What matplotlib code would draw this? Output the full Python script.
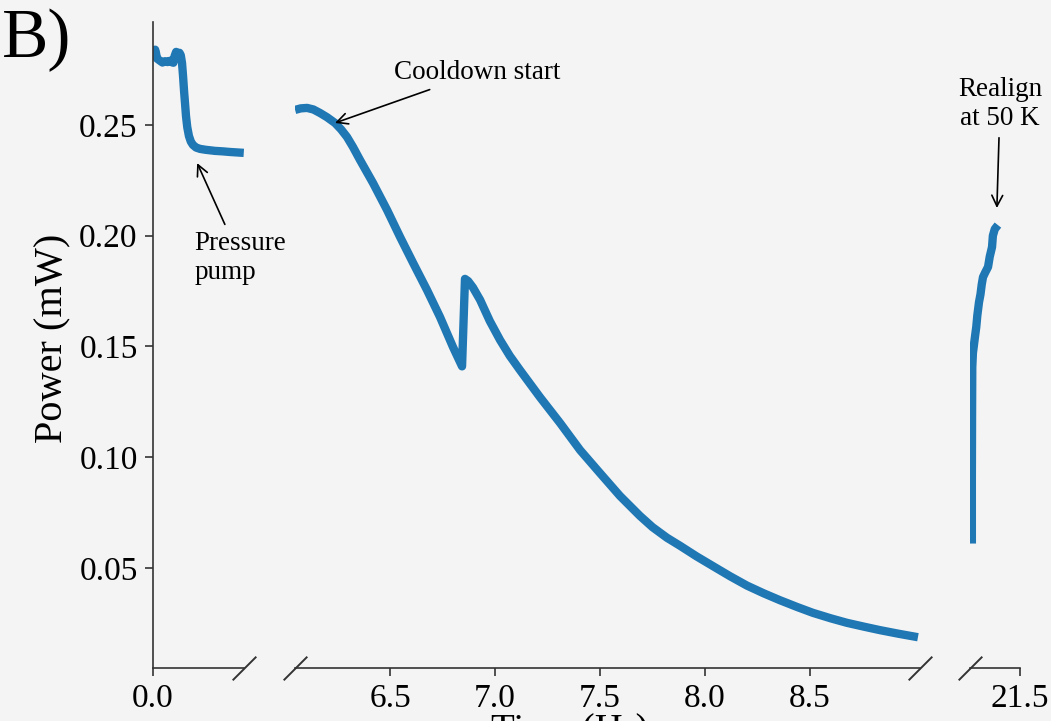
import numpy as np
import matplotlib.pyplot as plt

plt.rcParams['font.family'] = ['Liberation Serif', 'DejaVu Serif']

BG = '#f4f4f4'
BLUE = '#1f77b4'
SPINE = '#333333'

# before cooldown (time in hr, power in mW)
t_pre = [0.005, 0.010, 0.014, 0.019, 0.026, 0.033, 0.045, 0.057, 0.069, 0.081,
         0.090, 0.097, 0.103, 0.110, 0.118, 0.126, 0.132, 0.138, 0.143, 0.148,
         0.153, 0.157, 0.163, 0.171, 0.180, 0.190, 0.205, 0.224, 0.250, 0.295,
         0.330, 0.367, 0.400, 0.432]
p_pre = [0.2815, 0.2840, 0.2825, 0.2800, 0.2795, 0.2790, 0.2782, 0.2788, 0.2784, 0.2790,
         0.2783, 0.2781, 0.2812, 0.2830, 0.2818, 0.2826, 0.2815, 0.2780, 0.2720, 0.2650,
         0.2590, 0.2540, 0.2490, 0.2450, 0.2425, 0.2410, 0.2398, 0.2392, 0.2388, 0.2383,
         0.2381, 0.2378, 0.2376, 0.2374]

# cooldown
t_cool = [6.048, 6.075, 6.105, 6.135, 6.167, 6.200, 6.238, 6.267, 6.295, 6.324,
          6.357, 6.419, 6.486, 6.548, 6.610, 6.676, 6.738, 6.800, 6.843, 6.857,
          6.872, 6.895, 6.929, 6.975, 7.024, 7.070, 7.119, 7.214, 7.310, 7.405,
          7.500, 7.595, 7.690, 7.750, 7.819, 7.881, 7.960, 8.038, 8.120, 8.200,
          8.280, 8.357, 8.440, 8.514, 8.600, 8.676, 8.760, 8.833, 8.920, 9.014]
p_cool = [0.2568, 0.2575, 0.2577, 0.2570, 0.2554, 0.2535, 0.2509, 0.2480, 0.2446, 0.2400,
          0.2342, 0.2238, 0.2116, 0.1994, 0.1877, 0.1755, 0.1633, 0.1497, 0.1410, 0.1805,
          0.1795, 0.1766, 0.1710, 0.1615, 0.1529, 0.1458, 0.1393, 0.1271, 0.1154, 0.1032,
          0.0928, 0.0825, 0.0735, 0.0684, 0.0636, 0.0600, 0.0552, 0.0508, 0.0462, 0.0420,
          0.0385, 0.0354, 0.0323, 0.0297, 0.0272, 0.0252, 0.0234, 0.0219, 0.0203, 0.0187]

# realign at 50 K
t_real = [21.271, 21.271, 21.272, 21.273, 21.276, 21.280, 21.286, 21.292, 21.297, 21.305,
          21.312, 21.318, 21.324, 21.335, 21.348, 21.356, 21.367, 21.371, 21.380, 21.395]
p_real = [0.0610, 0.0900, 0.1200, 0.1407, 0.1470, 0.1500, 0.1545, 0.1588, 0.1640, 0.1700,
          0.1735, 0.1780, 0.1813, 0.1835, 0.1859, 0.1905, 0.1949, 0.2000, 0.2030, 0.2048]

yticks = [0.05, 0.10, 0.15, 0.20, 0.25]

fig = plt.figure(figsize=(10.51, 7.21), dpi=100, facecolor=BG)
bot, h = 0.0735, 0.896
ax1 = fig.add_axes([0.1456, bot, 0.0866, h], facecolor=BG)
ax2 = fig.add_axes([0.2807, bot, 0.5947, h], facecolor=BG, sharey=ax1)
ax3 = fig.add_axes([0.9229, bot, 0.0476, h], facecolor=BG, sharey=ax1)

for ax, t, p in [(ax1, t_pre, p_pre), (ax2, t_cool, p_cool), (ax3, t_real, p_real)]:
    ax.plot(t, p, color=BLUE, lw=6, solid_capstyle='butt', solid_joinstyle='round')
    for s in ['top', 'right', 'left']:
        ax.spines[s].set_visible(False)
    ax.spines['bottom'].set_color(SPINE)
    ax.spines['bottom'].set_linewidth(1.2)
    ax.tick_params(axis='x', labelsize=24, length=6, width=1.2, color=SPINE, pad=5)
    ax.tick_params(axis='y', left=False, labelleft=False)

ax1.spines['left'].set_visible(True)
ax1.spines['left'].set_color(SPINE)
ax1.spines['left'].set_linewidth(1.2)
ax1.tick_params(axis='y', left=True, labelleft=True, labelsize=24, length=6,
                width=1.2, color=SPINE, pad=5)
ax1.set_ylim(0.0048, 0.2965)
ax1.set_yticks(yticks)
ax1.set_yticklabels([f'{v:.2f}' for v in yticks])

ax1.set_xlim(0, 0.4333)
ax1.set_xticks([0.0])
ax1.set_xticklabels(['0.0'])
ax2.set_xlim(6.0476, 9.024)
ax2.set_xticks([6.5, 7.0, 7.5, 8.0, 8.5])
ax2.set_xticklabels(['6.5', '7.0', '7.5', '8.0', '8.5'])
ax3.set_xlim(21.262, 21.5)
ax3.set_xticks([21.5])
ax3.set_xticklabels(['21.5'])

# break marks
brk = dict(marker=[(-1, -1), (1, 1)], markersize=17, linestyle='none',
           color=SPINE, mec=SPINE, mew=1.4, clip_on=False)
ax1.plot([1], [0], transform=ax1.transAxes, **brk)
ax2.plot([0, 1], [0, 0], transform=ax2.transAxes, **brk)
ax3.plot([0], [0], transform=ax3.transAxes, **brk)

arrow = dict(arrowstyle='->', color='black', lw=1.2, shrinkA=3, shrinkB=0)
ax1.annotate('Pressure\npump', xy=(0.21, 0.2328), xytext=(0.414, 0.190),
             ha='center', va='center', multialignment='left', fontsize=19.5,
             arrowprops=arrow, annotation_clip=False)
ax2.annotate('Cooldown start', xy=(6.238, 0.2509), xytext=(6.914, 0.2735),
             ha='center', va='center', fontsize=19.5, arrowprops=arrow,
             annotation_clip=False)
ax3.annotate('Realign\nat 50 K', xy=(21.39, 0.2125), xytext=(21.405, 0.2595),
             ha='center', va='center', fontsize=19.5, arrowprops=arrow,
             annotation_clip=False)

fig.text(53 / 1051, 1 - 338 / 721, 'Power (mW)', rotation=90, ha='center',
         va='center', fontsize=29)
fig.text(570 / 1051, -0.028, 'Time (Hr)', ha='center', va='baseline', fontsize=28)
fig.text(0.002, 1 - 57 / 721, 'B)', ha='left', va='baseline', fontsize=50)

fig.savefig('out.png', dpi=100, facecolor=BG)
